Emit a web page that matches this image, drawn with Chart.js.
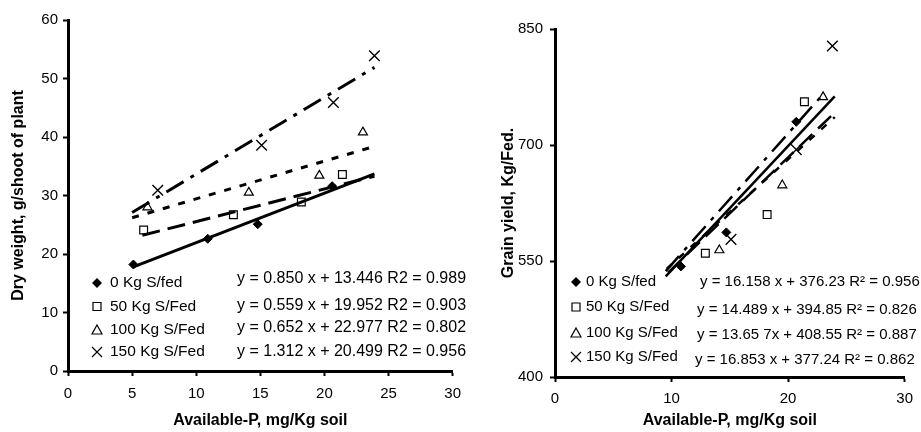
<!DOCTYPE html>
<html>
<head>
<meta charset="utf-8">
<script src="https://cdn.jsdelivr.net/npm/chart.js@4.4.1/dist/chart.umd.min.js"></script>
<style>
  body { margin: 0; background: #fff; }
  #wrap { position: relative; width: 921px; height: 432px; }
  canvas { position: absolute; top: 0; }
  #dryChart { left: 0; }
  #grainChart { left: 470px; }
</style>
</head>
<body>
<div id="wrap">
  <canvas id="dryChart" width="470" height="432"></canvas>
  <canvas id="grainChart" width="451" height="432"></canvas>
</div>
<script>
// series names (S rates)
const seriesLabels = ["0 Kg S/fed", "50 Kg S/Fed", "100 Kg S/Fed", "150 Kg S/Fed"];

// left chart: dry weight vs available P
const dryP0 = [5.1, 10.9, 14.8, 20.6];
const dryW0 = [18.2, 22.6, 25.1, 31.6];
const dryP50 = [5.9, 12.9, 18.2, 21.4];
const dryW50 = [24.1, 26.7, 28.9, 33.6];
const dryP100 = [6.2, 14.1, 19.6, 23.0];
const dryW100 = [28.0, 30.5, 33.4, 40.8];
const dryP150 = [7.0, 15.1, 20.7, 23.9];
const dryW150 = [30.9, 38.6, 45.9, 53.9];
// trend line ends
const dryTrendP = [[5.1, 23.9], [5.8, 23.9], [5.0, 23.9], [5.0, 23.9]];
const dryTrendW = [[17.8, 33.7], [23.2, 33.3], [26.2, 38.4], [27.1, 51.9]];
const dryEq = [
  "y = 0.850 x + 13.446 R2 = 0.989",
  "y = 0.559 x + 19.952 R2 = 0.903",
  "y = 0.652 x + 22.977 R2 = 0.802",
  "y = 1.312 x + 20.499 R2 = 0.956"
];

// right chart: grain yield vs available P
const grainP0 = [10.8, 14.7, 20.7];
const grainY0 = [543, 587, 730];
const grainP50 = [12.9, 18.2, 21.4];
const grainY50 = [560, 610, 756];
const grainP100 = [14.1, 19.5, 23.0];
const grainY100 = [564, 648, 762];
const grainP150 = [15.1, 20.7, 23.8];
const grainY150 = [578, 694, 828];
const grainTrendP = [[9.5, 24.0], [9.7, 24.0], [9.6, 24.0], [9.5, 22.9]];
const grainTrendY = [[530, 763], [535, 742], [540, 736], [537, 764]];
const grainEq = [
  "y = 16.158 x + 376.23 R\u00b2 = 0.956",
  "y = 14.489 x + 394.85 R\u00b2 = 0.826",
  "y = 13.65 7x + 408.55 R\u00b2 = 0.887",
  "y = 16.853 x + 377.24 R\u00b2 = 0.862"
];

const FONT = "'Liberation Sans', Arial, sans-serif";
const markers = [
  { pointStyle: "rectRot", radius: 4.5, backgroundColor: "#000", borderColor: "#000", borderWidth: 1 },
  { pointStyle: "rect", radius: 5.5, backgroundColor: "#fff", borderColor: "#000", borderWidth: 1.2 },
  { pointStyle: "triangle", radius: 5.2, backgroundColor: "#fff", borderColor: "#000", borderWidth: 1.2 },
  { pointStyle: "crossRot", radius: 7.5, backgroundColor: "#fff", borderColor: "#000", borderWidth: 1.4 }
];
const dashes = [[], [18, 8], [7, 9], [20, 8, 4, 8]];

function pts(xs, ys) {
    return xs.map((x, i) => ({ x: x, y: ys[i] }));
}

function buildSets(xs, ys, tx, ty, lw) {
    const sets = [];
    for (let i = 0; i < 4; i++) {
        sets.push({
            label: seriesLabels[i] + " trend",
            data: pts(tx[i], ty[i]),
            showLine: true,
            borderColor: "#000",
            borderWidth: lw,
            borderDash: dashes[i],
            pointRadius: 0,
            fill: false
        });
    }
    for (let i = 0; i < 4; i++) {
        const m = markers[i];
        sets.push({
            label: seriesLabels[i],
            data: pts(xs[i], ys[i]),
            showLine: false,
            pointStyle: m.pointStyle,
            pointRadius: m.radius,
            pointBackgroundColor: m.backgroundColor,
            pointBorderColor: m.borderColor,
            pointBorderWidth: m.borderWidth
        });
    }
    return sets;
}

// draws a legend marker by hand
function drawMarker(ctx, i, x, y) {
    ctx.save();
    ctx.strokeStyle = "#000";
    ctx.fillStyle = "#000";
    ctx.lineWidth = 1.2;
    ctx.beginPath();
    if (i == 0) {
        ctx.moveTo(x, y - 5); ctx.lineTo(x + 5, y); ctx.lineTo(x, y + 5); ctx.lineTo(x - 5, y);
        ctx.closePath(); ctx.fill();
    } else if (i == 1) {
        ctx.rect(x - 4, y - 4, 8, 8); ctx.stroke();
    } else if (i == 2) {
        ctx.moveTo(x, y - 5); ctx.lineTo(x + 5, y + 4); ctx.lineTo(x - 5, y + 4);
        ctx.closePath(); ctx.stroke();
    } else {
        ctx.moveTo(x - 5, y - 5); ctx.lineTo(x + 5, y + 5);
        ctx.moveTo(x + 5, y - 5); ctx.lineTo(x - 5, y + 5); ctx.stroke();
    }
    ctx.restore();
}

const eqLegend = {
    id: "eqLegend",
    afterDraw(chart) {
        const o = chart.options.plugins.eqLegend;
        const ctx = chart.ctx;
        ctx.save();
        ctx.fillStyle = "#000";
        ctx.textBaseline = "middle";
        ctx.textAlign = "left";
        for (let i = 0; i < 4; i++) {
            drawMarker(ctx, i, o.markX, o.rowY[i]);
            ctx.font = o.labelSize + "px " + FONT;
            ctx.fillText(seriesLabels[i], o.textX, o.rowY[i]);
            ctx.font = o.eqSize + "px " + FONT;
            ctx.fillText(o.eqs[i], o.eqX[i], o.eqY[i]);
        }
        ctx.restore();
    }
};

function axisOpts(min, max, step, fitSize, title, titlePad, tickPad, horizontal) {
    return {
        type: "linear",
        min: min,
        max: max,
        border: { display: true, color: "#000", width: 3 },
        grid: { drawOnChartArea: false, color: "#000", tickLength: 5, tickWidth: 2 },
        ticks: { stepSize: step, color: "#000", padding: tickPad, font: { family: FONT, size: 15 } },
        title: { display: true, text: title, color: "#000", padding: titlePad, font: { family: FONT, size: 16, weight: "bold" } },
        afterFit: function (s) {
            if (horizontal) s.height = fitSize; else s.width = fitSize;
        }
    };
}

Chart.defaults.animation = false;

new Chart(document.getElementById("dryChart"), {
    type: "scatter",
    data: {
        datasets: buildSets(
            [dryP0, dryP50, dryP100, dryP150],
            [dryW0, dryW50, dryW100, dryW150],
            dryTrendP, dryTrendW, 3)
    },
    options: {
        responsive: false,
        devicePixelRatio: 1,
        layout: { padding: { left: 0, top: 20, right: 13, bottom: 0 } },
        scales: {
            x: axisOpts(0, 30, 5, 61, "Available-P, mg/Kg soil", { top: 0, bottom: 2 }, 9, true),
            y: axisOpts(0, 60, 10, 68, "Dry weight, g/shoot of plant", { top: 9, bottom: 0 }, 5, false)
        },
        plugins: {
            legend: { display: false },
            tooltip: { enabled: false },
            eqLegend: {
                markX: 97, textX: 110, labelSize: 15.5, eqSize: 16,
                rowY: [283, 306.5, 330, 352],
                eqX: [237, 237, 237, 237],
                eqY: [279, 306, 328, 352],
                eqs: dryEq
            }
        }
    },
    plugins: [eqLegend]
});

new Chart(document.getElementById("grainChart"), {
    type: "scatter",
    data: {
        datasets: buildSets(
            [grainP0, grainP50, grainP100, grainP150],
            [grainY0, grainY50, grainY100, grainY150],
            grainTrendP, grainTrendY, 2.5)
    },
    options: {
        responsive: false,
        devicePixelRatio: 1,
        layout: { padding: { left: 0, top: 29, right: 8, bottom: 0 } },
        scales: {
            x: axisOpts(0, 30, 10, 55, "Available-P, mg/Kg soil", { top: 0, bottom: 2 }, 8, true),
            y: axisOpts(400, 850, 150, 85, "Grain yield, Kg/Fed.", { top: 29, bottom: 0 }, 7, false)
        },
        plugins: {
            legend: { display: false },
            tooltip: { enabled: false },
            eqLegend: {
                markX: 106, textX: 116, labelSize: 15, eqSize: 15,
                rowY: [282, 307, 333, 357],
                eqX: [230, 227, 227, 225],
                eqY: [282, 310, 335, 360],
                eqs: grainEq
            }
        }
    },
    plugins: [eqLegend]
});
</script>
</body>
</html>
